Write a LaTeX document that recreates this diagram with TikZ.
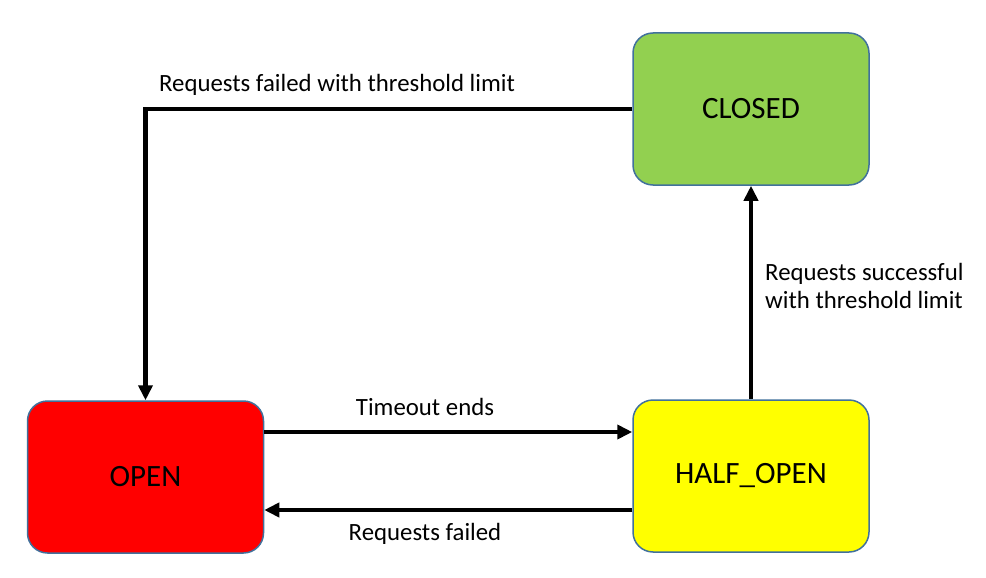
\documentclass[tikz,border=0pt]{standalone}
\usepackage{fontspec}
\setmainfont{Carlito}
\usetikzlibrary{arrows.meta}
\definecolor{cgreen}{HTML}{92D050}
\definecolor{cred}{HTML}{FF0000}
\definecolor{cyellow}{HTML}{FFFF00}
\definecolor{cborder}{HTML}{41719C}
\tikzset{
  state/.style={draw=cborder, line width=1.5pt, rounded corners=20pt, minimum width=236pt, minimum height=152pt, inner sep=0pt, font=\fontsize{31}{36}\selectfont},
  arr/.style={line width=4.5pt, -{Triangle[length=15pt,width=14pt]}},
  lbl/.style={font=\fontsize{24.8}{28}\selectfont, inner sep=0pt}
}
\begin{document}
\begin{tikzpicture}[x=1pt,y=-1pt]
\useasboundingbox[fill=white] (0,0) rectangle (986,578);
\node[state, fill=cgreen] (closed) at (751,109) {CLOSED};
\node[state, fill=cred] (open) at (145.5,477) {OPEN};
\node[state, fill=cyellow] (half) at (751,476) {HALF\_OPEN};
\draw[arr] (closed.west) -| (open.north);
\draw[arr] ([yshift=45pt]open.east) -- ([yshift=45pt]open.east -| half.west);
\draw[arr] ([yshift=-34pt]half.west) -- ([yshift=-34pt]half.west -| open.east);
\draw[arr] (half.north) -- (closed.south);
\node[lbl, anchor=base west] (l1) at (159,92) {Requests failed with threshold limit};
\node[lbl, anchor=base] (l2) at (425,415) {Timeout ends};
\node[lbl, anchor=base] (l3) at (425,540) {Requests failed};
\node[lbl, anchor=base west, align=left] (l4) at (765,308) {Requests successful\\with threshold limit};
\end{tikzpicture}
\end{document}
